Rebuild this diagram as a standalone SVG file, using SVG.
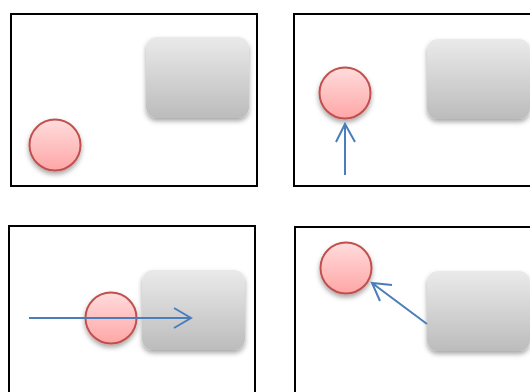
<svg xmlns="http://www.w3.org/2000/svg" width="530" height="392" viewBox="0 0 530 392">
<defs>
<linearGradient id="gGray" x1="0" y1="0" x2="0" y2="1">
<stop offset="0" stop-color="#eaeaea"/>
<stop offset="1" stop-color="#bcbcbc"/>
</linearGradient>
<linearGradient id="gRed" x1="0" y1="0" x2="0" y2="1">
<stop offset="0" stop-color="#ffdcdc"/>
<stop offset="1" stop-color="#ffa6a6"/>
</linearGradient>
<filter id="sh" x="-30%" y="-30%" width="160%" height="170%">
<feDropShadow dx="0" dy="3" stdDeviation="2.5" flood-color="#000" flood-opacity="0.35"/>
</filter>
</defs>
<style>
.frame{fill:#fff;stroke:#000;stroke-width:2}
.box{fill:url(#gGray);filter:url(#sh)}
.ball{fill:url(#gRed);stroke:#c0504d;stroke-width:2;filter:url(#sh)}
.conn{fill:none;stroke:#4a7ebb;stroke-width:2;stroke-linecap:butt;stroke-linejoin:miter}
</style>
<rect width="530" height="392" fill="#fff"/>
<g id="panel1">
<rect class="frame" x="11" y="14" width="246" height="172"/>
<g id="box1"><rect class="box" x="146" y="37" width="103" height="81" rx="11"/></g>
<g id="ball1"><circle class="ball" cx="55" cy="145" r="25.5"/></g>
</g>
<g id="panel2">
<rect class="frame" x="294" y="14" width="240" height="172"/>
<g id="box2"><rect class="box" x="427" y="39" width="103" height="80" rx="11"/></g>
<g id="ball2"><circle class="ball" cx="345" cy="93" r="25.5"/></g>
</g>
<g id="panel3">
<rect class="frame" x="9" y="226" width="246" height="172"/>
<g id="box3"><rect class="box" x="142" y="270" width="103" height="80" rx="11"/></g>
<g id="ball3"><circle class="ball" cx="111" cy="318" r="25.5"/></g>
</g>
<g id="panel4">
<rect class="frame" x="295" y="227" width="240" height="172"/>
<g id="box4"><rect class="box" x="427" y="271" width="103" height="80" rx="11"/></g>
<g id="ball4"><circle class="ball" cx="346" cy="268" r="25.5"/></g>
</g>
<g id="connectors">
<path class="conn" d="M345,175 V124 M336,142 L345,124 L355,142"/>
<path class="conn" d="M29,318 H191 M174,308 L191,318 L174,328"/>
<path class="conn" d="M427,324 L372,283 M392,285 L372,283 L380,301"/>
</g>
</svg>
